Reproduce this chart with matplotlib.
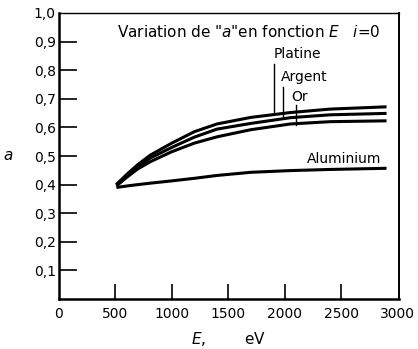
import numpy as np
import matplotlib.pyplot as plt

# Valeurs
energie = [510, 600, 700, 810, 1000, 1200, 1400, 1700, 2050, 2400, 2900]
platine = [0.40, 0.435, 0.47, 0.503, 0.545, 0.585, 0.612, 0.635, 0.652, 0.664, 0.672]
argent = [0.40, 0.43, 0.462, 0.493, 0.53, 0.566, 0.594, 0.614, 0.634, 0.644, 0.649]
orr = [0.395, 0.425, 0.455, 0.48, 0.515, 0.545, 0.567, 0.592, 0.612, 0.62, 0.623]
aluminium = [0.39, 0.395, 0.40, 0.405, 0.413, 0.422, 0.432, 0.443, 0.449, 0.453, 0.457]

xticks = [0, 500, 1000, 1500, 2000, 2500, 3000]
yticks = [0.1, 0.2, 0.3, 0.4, 0.5, 0.6, 0.7, 0.8, 0.9, 1.0]

fig = plt.figure(figsize=(4.18, 3.49), dpi=100)
ax = fig.add_axes([58.7 / 418, 50 / 349, 340.3 / 418, 286 / 349])

for y in [platine, argent, orr, aluminium]:
    ax.plot(energie, y, color='black', lw=2.2, solid_capstyle='butt')

ax.set_xlim(0, 3010)
ax.set_ylim(0, 1.0)

ax.set_xticks(xticks)
ax.set_xticklabels([str(v) for v in xticks])
ax.set_yticks(yticks)
ax.set_yticklabels([('%.1f' % v).replace('.', ',') for v in yticks])
ax.tick_params(axis='x', direction='in', length=11, width=1.2, labelsize=10, pad=6)
ax.tick_params(axis='y', direction='in', length=13, width=1.2, labelsize=10, pad=2)
for t in ax.xaxis.get_major_ticks():
    if t.get_loc() in (0, 3000):
        t.tick1line.set_visible(False)
for t in ax.yaxis.get_major_ticks():
    if t.get_loc() == 1.0:
        t.tick1line.set_visible(False)

for s in ['left', 'bottom']:
    ax.spines[s].set_linewidth(1.8)
ax.spines['right'].set_linewidth(1.4)
ax.spines['top'].set_linewidth(1.0)

# Titre et annotations
ax.text(515, 0.935, 'Variation de "$a$"en fonction $E$   $i$=0', fontsize=11, va='center')
ax.text(2110, 0.855, 'Platine', fontsize=10, ha='center', va='center')
ax.text(2170, 0.775, 'Argent', fontsize=10, ha='center', va='center')
ax.text(2130, 0.705, 'Or', fontsize=10, ha='center', va='center')
ax.text(2520, 0.49, 'Aluminium', fontsize=10, ha='center', va='center')
ax.plot([1900, 1900], [0.65, 0.82], color='black', lw=1.0)
ax.plot([1985, 1985], [0.635, 0.74], color='black', lw=1.0)
ax.plot([2100, 2100], [0.61, 0.68], color='black', lw=1.0)

fig.text(8 / 418, 1 - 156 / 349, '$a$', fontsize=11, ha='center', va='center')
ax.set_xlabel('$E$,        eV', fontsize=11, labelpad=6)

plt.savefig('out.png', dpi=100)
